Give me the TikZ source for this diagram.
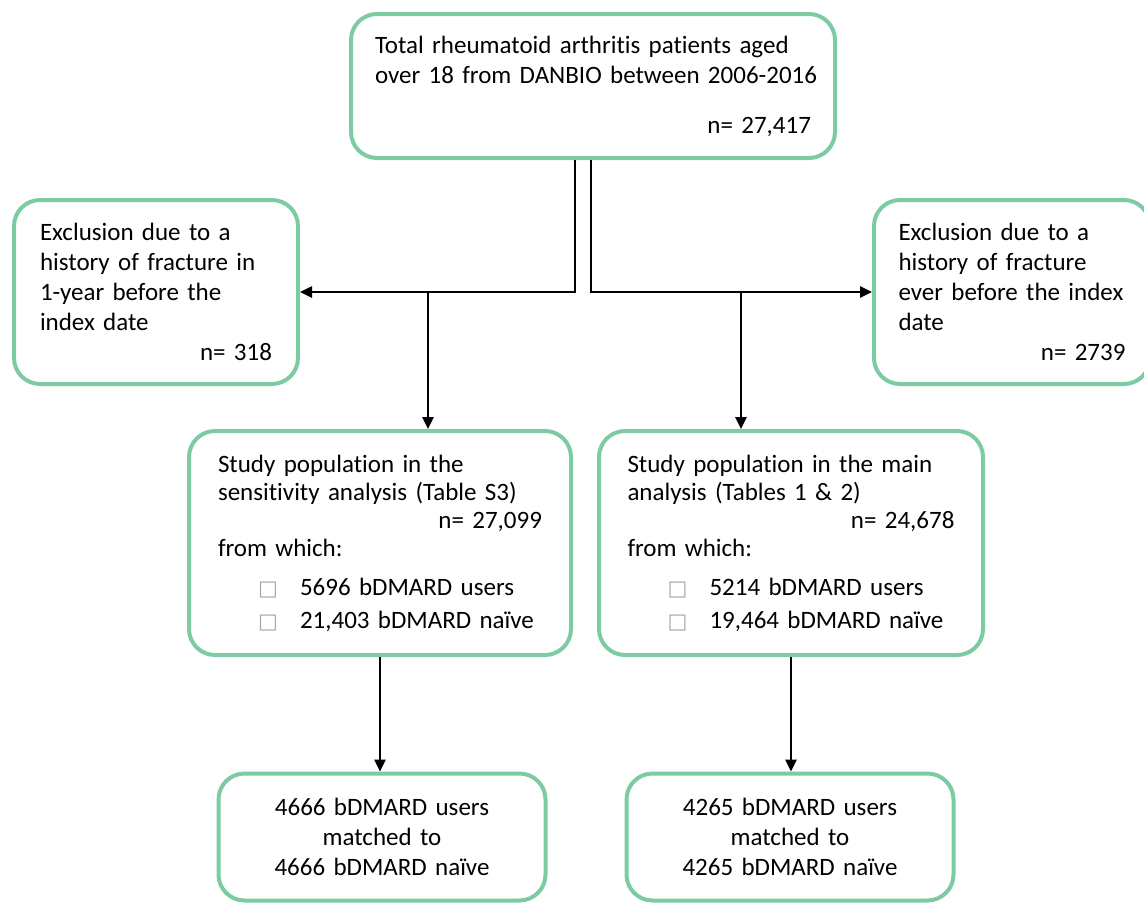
\documentclass[tikz,border=0pt]{standalone}
\usepackage{fontspec}
\setmainfont{Carlito}[Ligatures={NoCommon,NoRequired,NoContextual}]
\newfontfamily\symfont{DejaVu Sans}
\usetikzlibrary{arrows.meta}

\definecolor{boxgreen}{RGB}{124,203,162}
\newcommand{\emptybox}{{\symfont\fontsize{21}{21}\selectfont\color{gray!70}□}}
\newcommand{\listitem}[1]{\hspace*{40pt}\makebox[42pt][l]{\emptybox}#1}
\newcommand{\countline}[1]{\hspace*{\fill}n= #1}

\begin{document}
\begin{tikzpicture}[x=1pt, y=-1pt, >={Triangle[length=12pt,width=11pt]}]
    \tikzstyle{box}=[draw=boxgreen, line width=4pt, rounded corners=26pt, inner sep=0pt, font=\fontsize{25}{30}\selectfont]
    \tikzstyle{info box}=[box, align=left]
    \tikzstyle{study box}=[info box, minimum height=224pt, font=\fontsize{25}{28}\selectfont]
    \tikzstyle{match box}=[box, align=center, minimum width=327pt, minimum height=127pt, text width=300pt]
    \tikzstyle{link}=[->, draw=black, line width=2.5pt]

    \useasboundingbox (0,0) rectangle (1144,903);

    % Draw the top box
    \node[info box, minimum width=484pt, minimum height=144pt, text width=436pt] (total) at (593,86)
        {Total rheumatoid arthritis patients aged\\ \makebox[\linewidth][l]{over 18 from DANBIO between 2006-2016}\\[20pt] \countline{27,417}};

    % Draw the exclusion boxes
    \node[info box, minimum width=284pt, minimum height=184pt, text width=232pt] (exclL) at (156,292)
        {Exclusion due to a\\ history of fracture in\\ 1-year before the\\ index date\\ \countline{318}};
    \node[info box, minimum width=276pt, minimum height=184pt, text width=227pt] (exclR) at (1012,292)
        {Exclusion due to a\\ history of fracture\\ ever before the index\\ date\\ \countline{2739}};

    % Draw the study population boxes
    \node[study box, minimum width=382pt, text width=324pt] (sens) at (380,543)
        {Study population in the\\ sensitivity analysis (Table S3)\\ \countline{27,099}\\ from which:\\[11pt]
         \listitem{5696 bDMARD users}\\[5pt] \listitem{21,403 bDMARD naïve}};
    \node[study box, minimum width=384pt, text width=327pt] (main) at (791,543)
        {Study population in the main\\ analysis (Tables 1 \& 2)\\ \countline{24,678}\\ from which:\\[11pt]
         \listitem{5214 bDMARD users}\\[5pt] \listitem{19,464 bDMARD naïve}};

    % Draw the matched boxes
    \node[match box] (sensmatch) at (382,837) {4666 bDMARD users\\ matched to\\ 4666 bDMARD naïve};
    \node[match box] (mainmatch) at (790,837) {4265 bDMARD users\\ matched to\\ 4265 bDMARD naïve};

    % Split the total into the two exclusion branches
    \draw[link] ([xshift=-18pt]total.south) |- (exclL.east);
    \draw[link] ([xshift=-2pt]total.south) |- (exclR.west);

    % Branches down to the study populations
    \coordinate (splitL) at (428,292);
    \coordinate (splitR) at (741,292);
    \draw[link] (splitL) -- (splitL |- sens.north);
    \draw[link] (splitR) -- (splitR |- main.north);

    % Connect each study population with its matched set
    \foreach \src/\dst in {sens/sensmatch, main/mainmatch}
        \draw[link] (\src.south) -- (\src.south |- \dst.north);

\end{tikzpicture}
\end{document}
